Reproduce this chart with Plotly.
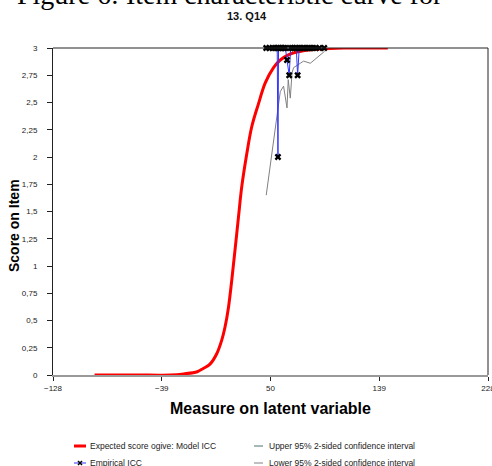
import plotly.graph_objects as go

# ---------------- data ----------------
model_x = [-94, -60, -32, -21, -10, -5, 0.5, 6, 10.1, 12.8, 15.6, 18.3, 21.0, 23.8, 26.5,
           30.6, 34.7, 40.2, 45.7, 52.5, 58, 65, 75, 90, 110, 130, 146]
model_y = [0, 0, 0, 0.01, 0.03, 0.06, 0.10, 0.195, 0.32, 0.44, 0.62, 0.87, 1.15, 1.45, 1.73,
           2.03, 2.28, 2.49, 2.68, 2.82, 2.89, 2.94, 2.97, 2.99, 3.0, 3.0, 3.0]

emp_x = [46.5, 49, 51.5, 53.5, 55.5, 56.1, 56.6, 58, 59.5, 61, 62.2, 63.5, 65.3, 66.5, 68,
         69.5, 71.1, 72.2, 73.5, 75, 77, 79, 81, 83, 85, 87, 90, 94]
emp_y = [3, 3, 3, 3, 3, 2.0, 3, 3, 3, 3, 3, 2.89, 2.75, 3, 3,
         3, 3, 2.75, 3, 3, 3, 3, 3, 3, 3, 3, 3, 3]

lower_x = [46.5, 53.9, 56.1, 58.0, 60.7, 63.5, 64.5, 66.2, 67.6, 68.9, 74.4, 77.1, 82.6, 90.8, 94.3]
lower_y = [1.65, 2.25, 2.40, 2.60, 2.65, 2.45, 2.71, 2.54, 2.77, 2.82, 2.86, 2.88, 2.86, 2.94, 2.97]

upper_x = [46.5, 56.1, 63.5, 72.2, 94.3]
upper_y = [3.0, 3.0, 3.0, 3.0, 3.0]

x_ticks = [-128, -39, 50, 139, 228]
y_ticks = [0, 0.25, 0.5, 0.75, 1, 1.25, 1.5, 1.75, 2, 2.25, 2.5, 2.75, 3]
y_tick_text = ["0", "0,25", "0,5", "0,75", "1", "1,25", "1,5", "1,75", "2", "2,25", "2,5", "2,75", "3"]

legend_labels = ["Expected score ogive: Model ICC", "Empirical ICC",
                 "Upper 95% 2-sided confidence interval", "Lower 95% 2-sided confidence interval"]

# ---------------- layout geometry (pixels) ----------------
W, H = 492, 466
ML, MR, MT, MB = 53, 4, 48, 91
PW, PH = W - ML - MR, H - MT - MB


def px(x):
    return (x - ML) / PW


def py(y):
    return (H - MB - y) / PH


RED = "#ff0000"
BLUE = "#3333ff"
UPPER_C = "#4f7070"
LOWER_C = "#808080"
FONT = "Liberation Sans, Arial, sans-serif"
ROW1, ROW2 = 446, 463

fig = go.Figure()
fig.add_trace(go.Scatter(x=upper_x, y=upper_y, mode="lines",
                         line=dict(color=UPPER_C, width=1), showlegend=False))
fig.add_trace(go.Scatter(x=lower_x, y=lower_y, mode="lines",
                         line=dict(color=LOWER_C, width=1), showlegend=False))
fig.add_trace(go.Scatter(x=model_x, y=model_y, mode="lines", line_shape="spline",
                         line=dict(color=RED, width=3), showlegend=False))
fig.add_trace(go.Scatter(x=emp_x, y=emp_y, mode="lines+markers",
                         line=dict(color=BLUE, width=1),
                         marker=dict(symbol="x", size=6, color="black",
                                     line=dict(width=0)),
                         showlegend=False, cliponaxis=False))

annotations = [
    dict(text="Figure 6: Item characteristic curve for", x=px(15), y=py(-6),
         xanchor="left", yanchor="middle",
         font=dict(family="Liberation Serif, Times New Roman, serif", size=28, color="black")),
    dict(text="<b>13. Q14</b>", x=px(247), y=py(16), xanchor="center", yanchor="middle",
         font=dict(family=FONT, size=11, color="#111")),
    dict(text="<b>Measure on latent variable</b>", x=px(270), y=py(408),
         xanchor="center", yanchor="middle", font=dict(family=FONT, size=16, color="black")),
    dict(text="<b>Score on Item</b>", x=px(14), y=py(226), textangle=-90,
         xanchor="center", yanchor="middle", font=dict(family=FONT, size=14, color="black")),
    dict(text=legend_labels[0], x=px(88), y=py(ROW1), xanchor="left", yanchor="middle",
         font=dict(family=FONT, size=8.5, color="#222")),
    dict(text=legend_labels[1], x=px(88), y=py(ROW2), xanchor="left", yanchor="middle",
         font=dict(family=FONT, size=8.5, color="#222")),
    dict(text=legend_labels[2], x=px(267), y=py(ROW1), xanchor="left", yanchor="middle",
         font=dict(family=FONT, size=8.5, color="#222")),
    dict(text=legend_labels[3], x=px(267), y=py(ROW2), xanchor="left", yanchor="middle",
         font=dict(family=FONT, size=8.5, color="#222")),
]
for a in annotations:
    a.update(xref="paper", yref="paper", showarrow=False)

shapes = [
    # frame top and right
    dict(type="line", x0=0, x1=1, y0=1, y1=1, line=dict(color="#222", width=1)),
    dict(type="line", x0=1, x1=1, y0=0, y1=1, line=dict(color="#222", width=1)),
    # legend symbols
    dict(type="line", x0=px(74), x1=px(86), y0=py(ROW1), y1=py(ROW1), line=dict(color=RED, width=3)),
    dict(type="line", x0=px(74), x1=px(86), y0=py(ROW2), y1=py(ROW2), line=dict(color=BLUE, width=1)),
    dict(type="line", x0=px(78), x1=px(82), y0=py(ROW2 - 2), y1=py(ROW2 + 2), line=dict(color="black", width=1.5)),
    dict(type="line", x0=px(78), x1=px(82), y0=py(ROW2 + 2), y1=py(ROW2 - 2), line=dict(color="black", width=1.5)),
    dict(type="line", x0=px(254), x1=px(263), y0=py(ROW1), y1=py(ROW1), line=dict(color=UPPER_C, width=1)),
    dict(type="line", x0=px(254), x1=px(263), y0=py(ROW2), y1=py(ROW2), line=dict(color=LOWER_C, width=1)),
]
for s in shapes:
    s.update(xref="paper", yref="paper")

fig.update_layout(
    width=W, height=H,
    margin=dict(l=ML, r=MR, t=MT, b=MB, pad=0, autoexpand=False),
    paper_bgcolor="white", plot_bgcolor="white",
    showlegend=False,
    annotations=annotations, shapes=shapes,
    xaxis=dict(range=[-128, 228], tickvals=x_ticks, ticks="outside", ticklen=4,
               tickcolor="#222", showline=True, linecolor="#999", linewidth=2,
               showgrid=False, zeroline=False, automargin=False,
               ticklabeloverflow="allow",
               tickfont=dict(family=FONT, size=8, color="#222")),
    yaxis=dict(range=[0, 3], tickvals=y_ticks, ticktext=y_tick_text, ticks="outside",
               ticklen=5, tickcolor="#222", showline=True, linecolor="#222", linewidth=1,
               showgrid=False, zeroline=False, ticklabelstandoff=8, automargin=False,
               tickfont=dict(family=FONT, size=8, color="#222")),
)

fig.write_html(
    "out.html",
    config={"displayModeBar": False},
    post_script="document.body.style.margin='0';document.body.style.padding='0';"
                "document.body.style.overflow='hidden';",
)
